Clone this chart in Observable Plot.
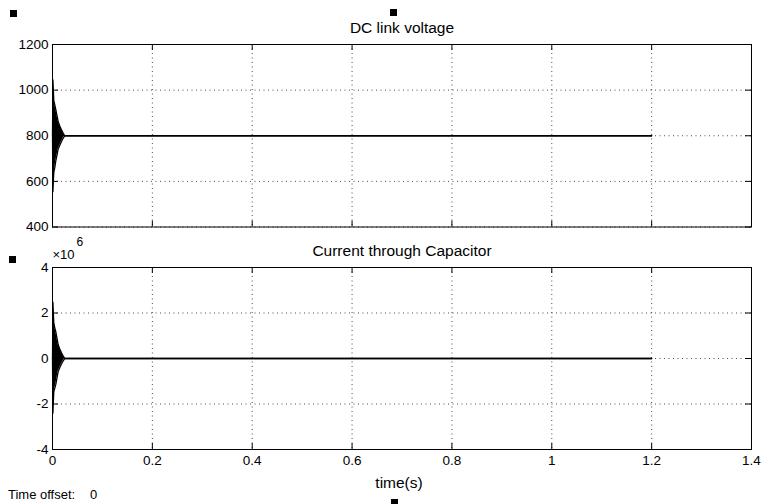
<!DOCTYPE html>
<html><head><meta charset="utf-8">
<script src="https://cdn.jsdelivr.net/npm/d3@7"></script>
<script src="https://cdn.jsdelivr.net/npm/@observablehq/plot@0.6"></script>
<style>
body{margin:0;background:#fff;}
#wrap{position:relative;width:771px;height:504px;overflow:hidden;font-family:"Liberation Sans",Arial,sans-serif;color:#000;background:#fff;}
.panel{position:absolute;left:0;}
.handle{position:absolute;width:7px;height:7px;background:#000;}
.lbl{position:absolute;font-size:13px;line-height:13px;white-space:pre;}
</style></head><body>
<div id="wrap"></div>
<script>
// ---- data ----
const timeS     = [0, 0.0008, 0.0026, 0.0046, 0.0066, 0.009, 0.0114, 0.0146, 0.018, 0.0215, 0.0246, 1.2];
const voltHigh  = [800, 1045, 955, 935, 915, 888, 862, 843, 826, 811, 800, 800];
const voltLow   = [800, 555, 640, 660, 690, 715, 742, 758, 775, 790, 800, 800];
const currHigh  = [0, 2.48e6, 1.55e6, 1.35e6, 1.18e6, 0.88e6, 0.6e6, 0.42e6, 0.25e6, 0.1e6, 0, 0];
const currLow   = [0, -2.4e6, -1.45e6, -1.3e6, -1.14e6, -0.85e6, -0.57e6, -0.4e6, -0.24e6, -0.1e6, 0, 0];
const xTicks    = [0, 0.2, 0.4, 0.6, 0.8, 1, 1.2, 1.4];
const voltTicks = [400, 600, 800, 1000, 1200];
const currTicks = [-4e6, -2e6, 0, 2e6, 4e6];
const titles    = ["DC link voltage", "Current through Capacitor"];
const xLabel    = "time(s)";
const expLabel  = ["\u00d710", "6"];
const offsetLabel = ["Time offset:", "0"];

const wrap = document.getElementById("wrap");
const W = 771;
const ML = 52, MR = 20;
const FONT = "'Liberation Sans', Arial, sans-serif";

function panel({title, hi, lo, yTicks, yFmt, height, marginTop, marginBottom, bottom}) {
  const rows = timeS.map((t, i) => ({t, hi: hi[i], lo: lo[i]}));
  const fh = height - marginTop - marginBottom;
  const fw = W - ML - MR;
  const grid = {stroke: "#000", strokeOpacity: 0.7, strokeDasharray: "1,3.5", strokeWidth: 1};
  const marks = [
    Plot.gridX(xTicks, grid),
    Plot.gridY(yTicks, grid),
    Plot.areaY(rows, {x: "t", y1: "lo", y2: "hi", fill: "#000"}),
    Plot.line(rows, {x: "t", y: "hi", stroke: "#000", strokeWidth: 1.3}),
    Plot.line(rows, {x: "t", y: "lo", stroke: "#000", strokeWidth: 1.3}),
    Plot.tickX(xTicks, {x: d => d, insetTop: fh - 6, stroke: "#000"}),
    Plot.tickX(xTicks, {x: d => d, insetBottom: fh - 6, stroke: "#000"}),
    Plot.tickY(yTicks, {y: d => d, insetRight: fw - 6, stroke: "#000"}),
    Plot.tickY(yTicks, {y: d => d, insetLeft: fw - 6, stroke: "#000"}),
    Plot.frame({stroke: "#000"}),
    Plot.axisY(yTicks, {tickSize: 0, tickPadding: 4, tickFormat: yFmt, fontSize: 13.5, label: null}),
    Plot.text([title], {frameAnchor: "top", dy: -12, lineAnchor: "bottom", text: d => d, fontSize: 15.5, fill: "#000"})
  ];
  if (bottom) {
    marks.push(
      Plot.axisX(xTicks, {tickSize: 0, tickPadding: 6, tickFormat: d => String(d), fontSize: 13.5, label: null}),
      Plot.text([xLabel], {frameAnchor: "bottom", dy: 38, dx: -3, lineAnchor: "bottom", text: d => d, fontSize: 15.5, fill: "#000"}),
      Plot.text([expLabel[0]], {frameAnchor: "top-left", dx: 0, dy: -8.5, lineAnchor: "bottom", textAnchor: "start", text: d => d, fontSize: 13, fill: "#000"}),
      Plot.text([expLabel[1]], {frameAnchor: "top-left", dx: 24, dy: -21.5, lineAnchor: "bottom", textAnchor: "start", text: d => d, fontSize: 12, fill: "#000"})
    );
  }
  return Plot.plot({
    width: W, height, marginTop, marginBottom, marginLeft: ML, marginRight: MR,
    style: {fontFamily: FONT, fontSize: "13.5px", color: "#000", background: "transparent", overflow: "visible"},
    x: {domain: [0, 1.4], axis: null, label: null},
    y: {domain: [yTicks[0], yTicks[yTicks.length - 1]], axis: null, label: null},
    marks
  });
}

const top1 = panel({title: titles[0], hi: voltHigh, lo: voltLow, yTicks: voltTicks, yFmt: d => String(d),
  height: 240, marginTop: 44, marginBottom: 13.5, bottom: false});
top1.classList.add("panel"); top1.style.top = "0px";
wrap.appendChild(top1);

const bot = panel({title: titles[1], hi: currHigh, lo: currLow, yTicks: currTicks, yFmt: d => String(d / 1e6),
  height: 264, marginTop: 27, marginBottom: 55, bottom: true});
bot.classList.add("panel"); bot.style.top = "240px";
wrap.appendChild(bot);

// scope handles
[[10, 10], [390, 9], [9, 256], [391, 499]].forEach(([l, t]) => {
  const d = document.createElement("div");
  d.className = "handle"; d.style.left = l + "px"; d.style.top = t + "px";
  wrap.appendChild(d);
});

// time offset text
const o1 = document.createElement("div"); o1.className = "lbl"; o1.textContent = offsetLabel[0];
o1.style.left = "8px"; o1.style.top = "488px"; wrap.appendChild(o1);
const o2 = document.createElement("div"); o2.className = "lbl"; o2.textContent = offsetLabel[1];
o2.style.left = "90px"; o2.style.top = "488px"; wrap.appendChild(o2);
</script>
</body></html>
